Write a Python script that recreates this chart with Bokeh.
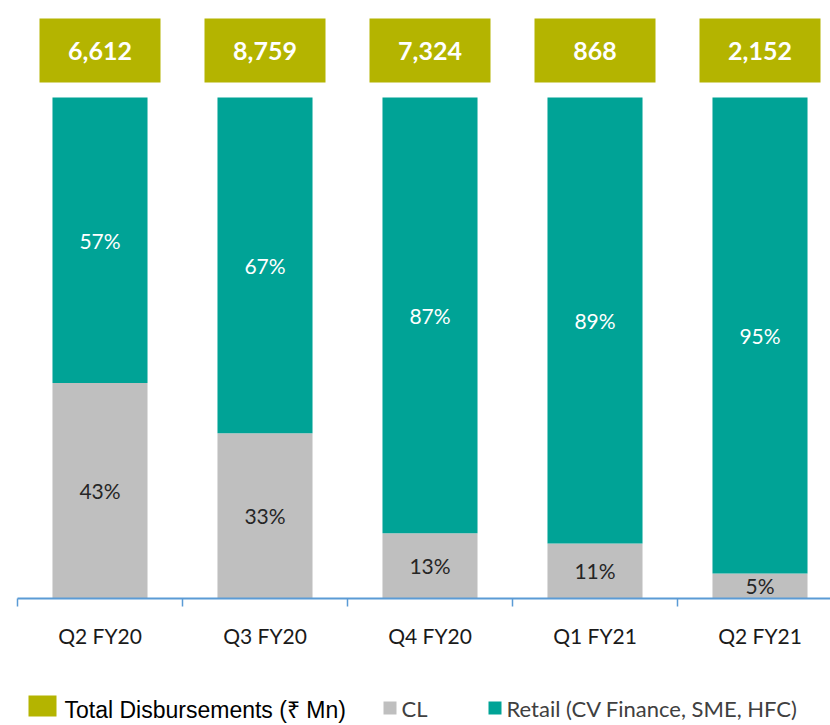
from bokeh.plotting import figure
from bokeh.models import ColumnDataSource, Range1d, FixedTicker
from bokeh.layouts import column
from bokeh.core.properties import value
from bokeh.embed import file_html
from bokeh.resources import INLINE

# ---- data ----
quarters = ["Q2 FY20", "Q3 FY20", "Q4 FY20", "Q1 FY21", "Q2 FY21"]
cl_pct = [43, 33, 13, 11, 5]
retail_pct = [57, 67, 87, 89, 95]
totals = [6612, 8759, 7324, 868, 2152]

OLIVE = "#B4B400"
TEAL = "#00A396"
GRAY = "#BFBFBF"
AXIS_BLUE = "#5B9BD5"
CAL = "Lato"

xs = list(range(len(quarters)))
frame_h = 590
y_end = 117.76
pxu = frame_h / y_end
box_y = y_end - 42 / pxu

src = ColumnDataSource(dict(
    x=xs,
    cl=cl_pct,
    retail=retail_pct,
    cl_mid=[c / 2 for c in cl_pct],
    re_mid=[c + r / 2 for c, r in zip(cl_pct, retail_pct)],
    cl_lbl=[f"{v}%" for v in cl_pct],
    re_lbl=[f"{v}%" for v in retail_pct],
    tot=[f"{v:,}" for v in totals],
    box_y=[box_y] * len(xs),
))

p = figure(width=830, height=686, output_backend="svg", toolbar_location=None,
           x_range=Range1d(-0.5, -0.5 + 813 / 165), y_range=Range1d(0, y_end),
           y_axis_location=None, min_border_left=17, min_border_right=0,
           min_border_top=8, min_border_bottom=88)
p.outline_line_color = None
p.grid.visible = False
p.background_fill_color = "white"

p.vbar_stack(["cl", "retail"], x="x", width=0.576, color=[GRAY, TEAL],
             line_color=None, source=src)

p.text(x="x", y="cl_mid", text="cl_lbl", source=src, text_align="center",
       text_baseline="middle", text_font=value(CAL), text_font_size="21px",
       text_color="#262626")
p.text(x="x", y="re_mid", text="re_lbl", source=src, text_align="center",
       text_baseline="middle", text_font=value(CAL), text_font_size="21px",
       text_color="white")

p.rect(x="x", y="box_y", width=121, height=64, width_units="screen",
       height_units="screen", fill_color=OLIVE, line_color=None, source=src)
p.text(x="x", y="box_y", text="tot", source=src, text_align="center",
       text_baseline="middle", text_font=value(CAL), text_font_size="25px",
       text_font_style="bold", text_color="white")

ax = p.xaxis[0]
ax.ticker = FixedTicker(ticks=xs, minor_ticks=[i - 0.5 for i in range(len(xs) + 1)])
ax.major_label_overrides = {i: q for i, q in zip(xs, quarters)}
ax.major_tick_out = 0
ax.major_tick_in = 0
ax.minor_tick_out = 8
ax.minor_tick_in = 0
ax.minor_tick_line_color = AXIS_BLUE
ax.minor_tick_line_width = 1.5
ax.axis_line_color = AXIS_BLUE
ax.axis_line_width = 2
ax.major_label_standoff = 16
ax.major_label_text_font = CAL
ax.major_label_text_font_size = "21px"
ax.major_label_text_color = "#1a1a1a"

# ---- legend strip (frame aligned with main frame: x from 17 to 830) ----
lg = figure(width=830, height=38, output_backend="svg", toolbar_location=None,
            x_range=Range1d(17, 830), y_range=Range1d(38, 0),
            x_axis_location=None, y_axis_location=None,
            min_border=0)
lg.outline_line_color = None
lg.grid.visible = False
lg.quad(left=[28], right=[56], top=[9], bottom=[30], fill_color=OLIVE, line_color=None)
lg.text(x=[64], y=[23], text=["Total Disbursements (₹ Mn)"], text_font=value("Liberation Sans"),
        text_font_size="23px", text_color="black", text_baseline="middle")
lg.quad(left=[383], right=[396], top=[15], bottom=[28], fill_color=GRAY, line_color=None)
lg.text(x=[401], y=[22], text=["CL"], text_font=value(CAL),
        text_font_size="22px", text_color="#404040", text_baseline="middle")
lg.quad(left=[488], right=[501], top=[15], bottom=[28], fill_color=TEAL, line_color=None)
lg.text(x=[506], y=[22], text=["Retail (CV Finance, SME, HFC)"], text_font=value(CAL),
        text_font_size="22px", text_color="#404040", text_baseline="middle")

layout = column(p, lg, spacing=0)
open("out.html", "w").write(file_html(layout, INLINE))
